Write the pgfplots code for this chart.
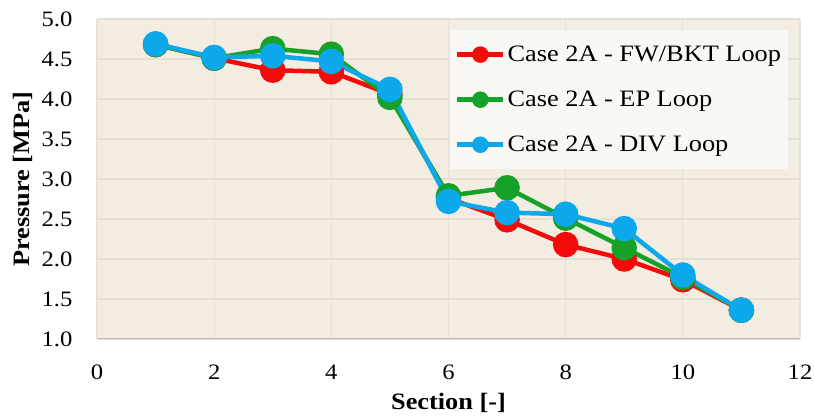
\documentclass[border=0pt]{standalone}
\usepackage{fontspec}
\setmainfont{Liberation Serif}[FakeStretch=1.12]
\usepackage{pgfplots}
\pgfplotsset{compat=1.18}
\definecolor{bgc}{RGB}{243,236,225}
\definecolor{gridc}{RGB}{229,224,215}
\definecolor{cred}{RGB}{245,10,10}
\definecolor{cgreen}{RGB}{22,162,40}
\definecolor{cblue}{RGB}{12,168,236}
\definecolor{legfill}{RGB}{250,248,245}
\begin{document}
\begin{tikzpicture}
\useasboundingbox[fill=white] (-97pt,-78pt) rectangle (717pt,339pt);
\begin{axis}[
  at={(0pt,0pt)}, anchor=south west,
  scale only axis,
  width=703pt, height=320pt,
  xmin=0, xmax=12, ymin=1, ymax=5,
  xtick={0,2,...,12}, ytick={1,1.5,...,5},
  /pgf/number format/.cd, fixed, assume math mode=true,
  /pgfplots/.cd,
  yticklabel style={/pgf/number format/fixed zerofill, /pgf/number format/precision=1, xshift=-21pt},
  xticklabel style={yshift=-22pt},
  tick label style={font=\fontsize{22pt}{26pt}\selectfont},
  major tick length=0pt,
  grid=major,
  major grid style={gridc, line width=1.2pt},
  axis background/.style={fill=bgc},
  axis line style={draw=none},
  xlabel={\textbf{Section [-]}},
  ylabel={\textbf{Pressure [MPa]}},
  label style={font=\fontsize{23.5pt}{26pt}\selectfont},
  xlabel style={at={(axis description cs:0.5,0)}, anchor=center, yshift=-64pt},
  ylabel style={at={(axis description cs:0,0.5)}, anchor=center, xshift=0pt, yshift=74pt},
  legend style={at={(axis description cs:0.502,0.966)}, anchor=north west,
    fill=legfill, draw=none, font=\fontsize{23.5pt}{26pt}\selectfont,
    row sep=24pt, inner xsep=5pt, inner ysep=14pt},
  legend cell align=left,
  legend image code/.code={
    \draw[#1, mark=none] (0pt,0pt) -- (46pt,0pt);
    \draw[#1, mark size=6pt] plot coordinates {(23pt,0pt)};
  },
  every axis plot/.append style={line width=4.5pt, mark=*, mark size=10.5pt},
]
\draw[gray!55, line width=1.2pt] (rel axis cs:0,0) -- (rel axis cs:1,0);
\draw[gray!20, line width=0.8pt] (rel axis cs:0,0) -- (rel axis cs:0,1);
\draw[gray!20, line width=0.8pt] (rel axis cs:1,0) -- (rel axis cs:1,1);
\addplot[cred, mark options={fill=cred, draw=cred}] coordinates {
  (1,4.68) (2,4.51) (3,4.36) (4,4.34) (5,4.06) (6,2.76) (7,2.49) (8,2.18) (9,2.00) (10,1.74) (11,1.36)};
\addlegendentry{Case 2A - FW/BKT Loop}
\addplot[cgreen, mark options={fill=cgreen, draw=cgreen}] coordinates {
  (1,4.68) (2,4.51) (3,4.63) (4,4.56) (5,4.02) (6,2.79) (7,2.89) (8,2.51) (9,2.14) (10,1.77) (11,1.36)};
\addlegendentry{Case 2A - EP Loop}
\addplot[cblue, mark options={fill=cblue, draw=cblue}] coordinates {
  (1,4.69) (2,4.52) (3,4.54) (4,4.47) (5,4.12) (6,2.72) (7,2.58) (8,2.56) (9,2.38) (10,1.80) (11,1.36)};
\addlegendentry{Case 2A - DIV Loop}
\end{axis}
\end{tikzpicture}
\end{document}
